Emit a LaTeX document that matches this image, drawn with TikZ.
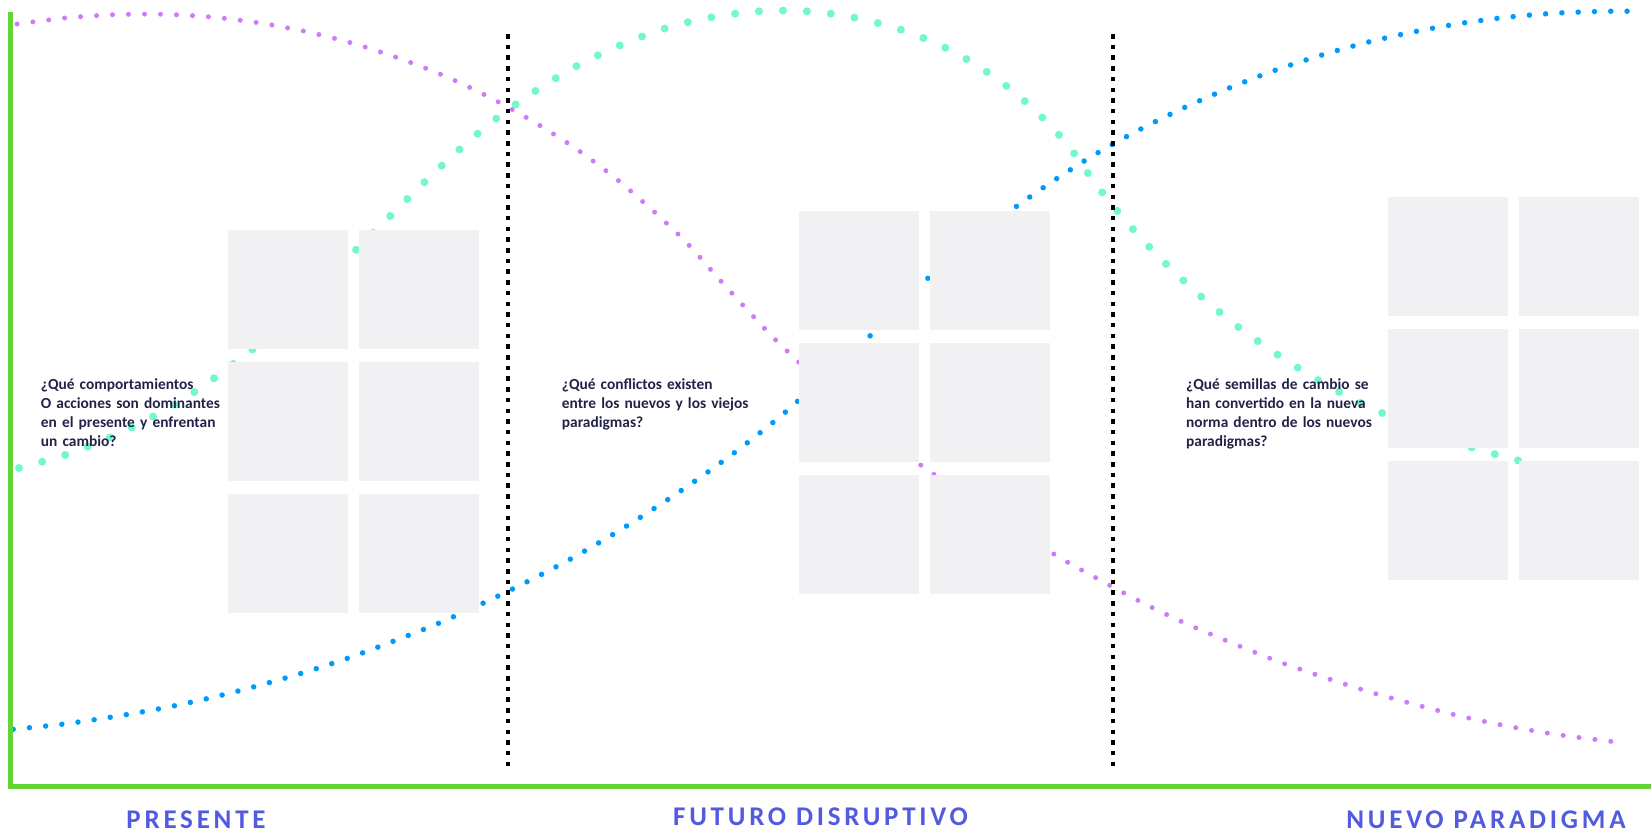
\documentclass[tikz,border=0pt]{standalone}
\usepackage{fontspec}
\setmainfont{Carlito}
\newfontfamily\erafont[LetterSpace=14]{Carlito}
\definecolor{axisgreen}{RGB}{99,214,54}
\definecolor{boxgray}{RGB}{241,241,243}
\definecolor{textnavy}{RGB}{34,34,72}
\definecolor{eraviolet}{RGB}{82,90,224}
\definecolor{oldpurple}{RGB}{206,124,246}
\definecolor{midteal}{RGB}{114,248,204}
\definecolor{newblue}{RGB}{0,155,250}
\begin{document}
\begin{tikzpicture}
		[x=1pt,y=-1pt,
		box/.style={fill=boxgray,minimum width=120pt,minimum height=119pt,inner sep=0pt,anchor=north west},
		question/.style={anchor=base west,inner sep=0pt,text width=215pt,align=left,text=textnavy,font=\fontsize{15.4}{19.3}\selectfont\bfseries},
		era/.style={anchor=base,inner sep=0pt,text=eraviolet,font=\erafont\fontsize{27}{30}\selectfont\bfseries},
		olddots/.style={draw=oldpurple,line width=5pt,line cap=round,dash pattern=on 0pt off 16pt},
		middots/.style={draw=midteal,line width=8pt,line cap=round,dash pattern=on 0pt off 24pt},
		newdots/.style={draw=newblue,line width=5.5pt,line cap=round,dash pattern=on 0pt off 16.3pt},
		divider/.style={draw=black,line width=4.5pt,dash pattern=on 4.5pt off 6.2pt},
		axis/.style={draw=axisgreen,line width=5pt}]
		\useasboundingbox (0,0) rectangle (1651,833);
		% curves
		\draw[olddots] plot[smooth] coordinates {(17,24) (65,18) (114,14.7) (163,14.3) (211,17) (260,23) (308,32) (355,44) (401,59) (447,77) (491,98) (534,122) (575,148) (614,177) (651,209) (686,242) (719,279) (752,315) (786,350) (860,418) (922,466) (996,516) (1057,556) (1100,580) (1143,603) (1187,624) (1232,643) (1277,661) (1323,677) (1370,692) (1417,705) (1464,717) (1512,727) (1560,735) (1608,741) (1624,743)};
		\draw[middots] plot[smooth] coordinates {(19,468) (65,455) (111,437) (154,416) (196,391) (236,362) (254,348) (305,302) (358.6,247.3) (393.6,212.7) (427.9,178.7) (463.6,145.7) (501,115) (541,87.3) (582.9,62.7) (627.1,42.3) (672.9,26) (720.4,15.7) (768.6,10.7) (816.8,12) (864.6,19.7) (911.4,33.3) (955.7,53) (996.8,78.7) (1034.3,109.7) (1067.5,144.7) (1095.7,184) (1126.4,221.7) (1159.4,257.3) (1194.5,290.7) (1231.8,322) (1271,350.3) (1312.2,376.7) (1354.7,400) (1398,420) (1443,438) (1489.7,452.7) (1537,465) (1585,474) (1610,478)};
		\draw[newdots] plot[smooth] coordinates {(13.2,729.3) (61.4,724.3) (110,717.3) (158.2,709) (205.7,699) (253.2,687) (300,673.7) (346.4,658.7) (392.1,641.7) (437.5,623.7) (482,603.7) (526,582.3) (569.3,559.7) (611.4,535.3) (652.9,509.3) (693.2,482.3) (733,453.7) (771.4,423.7) (796,402.7) (868.6,337.3) (926,280) (970,242) (1014.3,208) (1054.6,180) (1095.7,154) (1138.3,130.3) (1181.9,108.7) (1226.8,89) (1272.2,71.3) (1318.6,56) (1365.6,42.7) (1413,32) (1461.2,23.3) (1509.3,17) (1558.2,13) (1606.7,11.3) (1639.4,11.3)};
		% note boxes
		\foreach \gx/\gy/\g in {228/230/left,799/211/mid,1388/197/right}{
			\foreach \c in {0,1}{
				\foreach \r in {0,1,2}{
					\node[box] (\g\c\r) at ({\gx+130.5*\c},{\gy+132*\r}) {};
				}
			}
		}
		% dividers and axis
		\coordinate (d1top) at (508,34);
		\coordinate (d1bot) at (508,772);
		\coordinate (d2top) at (1113,34);
		\coordinate (d2bot) at (1113,772);
		\draw[divider] (d1top) -- (d1bot);
		\draw[divider] (d2top) -- (d2bot);
		\coordinate (ytop) at (10.4,11.7);
		\coordinate (origin) at (10.4,786);
		\coordinate (xend) at (1651,786);
		\draw[axis] (ytop) -- (origin) -- (xend);
		% questions
		\node[question] (qpresent) at (40.7,389) {¿Qué comportamientos\\O acciones son dominantes\\en el presente y enfrentan\\un cambio?};
		\node[question] (qfuture) at (561.7,389) {¿Qué conflictos existen\\entre los nuevos y los viejos\\paradigmas?};
		\node[question] (qnew) at (1186,389) {¿Qué semillas de cambio se\\han convertido en la nueva\\norma dentro de los nuevos\\paradigmas?};
		% eras
		\node[era] (present) at (196,828) {PRESENTE};
		\node[era] (future) at (820.5,825) {FUTURO DISRUPTIVO};
		\node[era] (paradigm) at (1486,828) {NUEVO PARADIGMA};
	\end{tikzpicture}
\end{document}
